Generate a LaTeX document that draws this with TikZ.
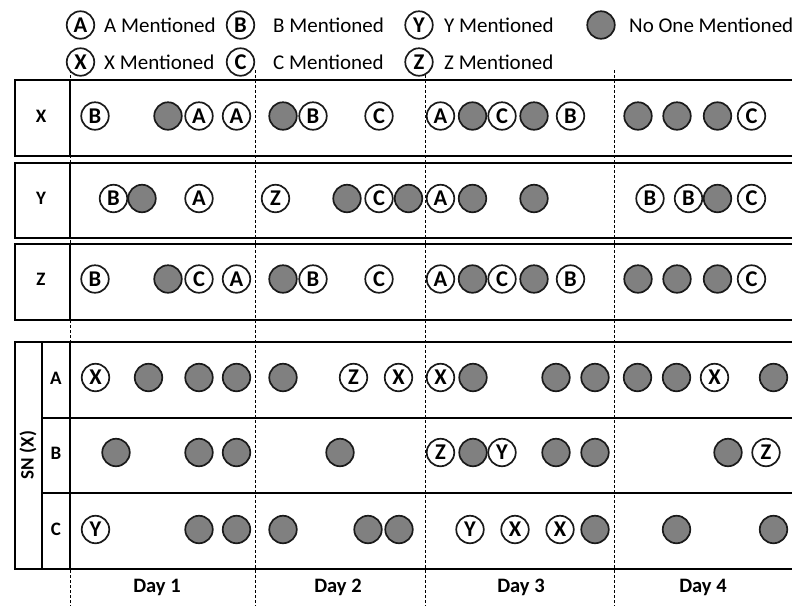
\documentclass[tikz,border=0pt]{standalone}
\usepackage{fontspec}
\setmainfont{Carlito}
\definecolor{gfill}{HTML}{808080}
\definecolor{lineK}{HTML}{1A1A1A}
\begin{document}
\begin{tikzpicture}[x=1pt,y=-1pt,
  mc/.style={circle,draw=lineK,line width=1.7pt,fill=white,minimum size=27.5pt,inner sep=0pt,
     font=\bfseries\fontsize{22.5}{22.5}\selectfont},
  nc/.style={circle,draw=lineK,line width=1.7pt,fill=gfill,minimum size=27.5pt,inner sep=0pt},
  frame/.style={draw=black,line width=2pt},
  daydash/.style={draw=black,line width=0.7pt,dash pattern=on 3pt off 2pt},
  rowlab/.style={font=\bfseries\fontsize{19}{19}\selectfont},
  daylab/.style={font=\bfseries\fontsize{20.5}{20.5}\selectfont},
  legtext/.style={anchor=west,font=\fontsize{21}{21}\selectfont,inner sep=0pt}]
\useasboundingbox (0,0) rectangle (792,606);
\fill[white] (0,0) rectangle (792,606);
% day dashed lines
\foreach \dx [count=\i] in {70.5,255.5,425.5,614.5}
  \draw[daydash] (\dx,70) coordinate (dt\i) -- (\dx,606) coordinate (db\i);
% legend
\node[mc] (lA) at (80.5,25) {A};
\node[legtext] (tA) at (104,25) {A Mentioned};
\node[mc] (lB) at (240.5,25) {B};
\node[legtext] (tB) at (273,25) {B Mentioned};
\node[mc] (lY) at (419,25) {Y};
\node[legtext] (tY) at (444,25) {Y Mentioned};
\node[nc] (lN) at (601,25) {};
\node[legtext] (tN) at (629,25) {No One Mentioned};
\node[mc] (lX) at (80.5,62) {X};
\node[legtext] (tX) at (104,62) {X Mentioned};
\node[mc] (lC) at (240.5,62) {C};
\node[legtext] (tC) at (273,62) {C Mentioned};
\node[mc] (lZ) at (419,62) {Z};
\node[legtext] (tZ) at (444,62) {Z Mentioned};
% top boxes
\draw[frame] (15,80) rectangle (800,156);
\draw[frame] (70,80) -- (70,156);
\draw[frame] (15,163) rectangle (800,238);
\draw[frame] (70,163) -- (70,238);
\draw[frame] (15,244) rectangle (800,320);
\draw[frame] (70,244) -- (70,320);
\node[rowlab] (labX) at (41,116) {X};
\node[rowlab] (labY) at (41,198) {Y};
\node[rowlab] (labZ) at (41,279) {Z};
% SN box
\draw[frame] (15,342) rectangle (800,569);
\draw[frame] (42,342) -- (42,569);
\draw[frame] (70,342) -- (70,569);
\draw[frame] (42,418) -- (800,418);
\draw[frame,line width=2.5pt] (42,493) -- (800,493);
\node[rowlab,rotate=90] (labSN) at (28,455) {SN (X)};
\node[rowlab] (labSA) at (56,378) {A};
\node[rowlab] (labSB) at (56,453) {B};
\node[rowlab] (labSC) at (56,529) {C};
% day labels
\node[daylab] (d1) at (157,587) {Day 1};
\node[daylab] (d2) at (338,587) {Day 2};
\node[daylab] (d3) at (521,587) {Day 3};
\node[daylab] (d4) at (703,587) {Day 4};
% X row
\foreach \px/\s/\t [count=\i] in {95/mc/B,168/nc/{},199/mc/A,236.5/mc/A,283/nc/{},313/mc/B,379/mc/C,
  440.5/mc/A,472.5/nc/{},502/mc/C,534/nc/{},570.5/mc/B,638/nc/{},677/nc/{},717.5/nc/{},751.5/mc/C}
  \node[\s] (x\i) at (\px,116) {\t};
% Y row
\foreach \px/\s/\t [count=\i] in {113.5/mc/B,142/nc/{},199/mc/A,275.5/mc/Z,347/nc/{},379/mc/C,408.5/nc/{},
  440.5/mc/A,472.5/nc/{},534/nc/{},650/mc/B,688.5/mc/B,717.5/nc/{},751.5/mc/C}
  \node[\s] (y\i) at (\px,198.5) {\t};
% Z row
\foreach \px/\s/\t [count=\i] in {95/mc/B,168/nc/{},199/mc/C,236.5/mc/A,283/nc/{},313/mc/B,379/mc/C,
  440.5/mc/A,472.5/nc/{},502/mc/C,534/nc/{},570.5/mc/B,638/nc/{},677/nc/{},717.5/nc/{},751.5/mc/C}
  \node[\s] (z\i) at (\px,279) {\t};
% SN A row
\foreach \px/\s/\t [count=\i] in {95.5/mc/X,148.5/nc/{},199/nc/{},236.5/nc/{},283/nc/{},353.5/mc/Z,398.5/mc/X,
  440.5/mc/X,473/nc/{},556/nc/{},595/nc/{},637.5/nc/{},676.5/nc/{},714.5/mc/X,773.5/nc/{}}
  \node[\s] (sa\i) at (\px,377.5) {\t};
% SN B row
\foreach \px/\s/\t [count=\i] in {116/nc/{},199/nc/{},236.5/nc/{},340/nc/{},
  440.5/mc/Z,473/nc/{},502/mc/Y,556/nc/{},595/nc/{},728/nc/{},766/mc/Z}
  \node[\s] (sb\i) at (\px,452.5) {\t};
% SN C row
\foreach \px/\s/\t [count=\i] in {95.5/mc/Y,199/nc/{},236.5/nc/{},283/nc/{},368/nc/{},399/nc/{},
  470/mc/Y,515/mc/X,560/mc/X,595/nc/{},676.5/nc/{},773.5/nc/{}}
  \node[\s] (sc\i) at (\px,529.5) {\t};
\end{tikzpicture}
\end{document}
